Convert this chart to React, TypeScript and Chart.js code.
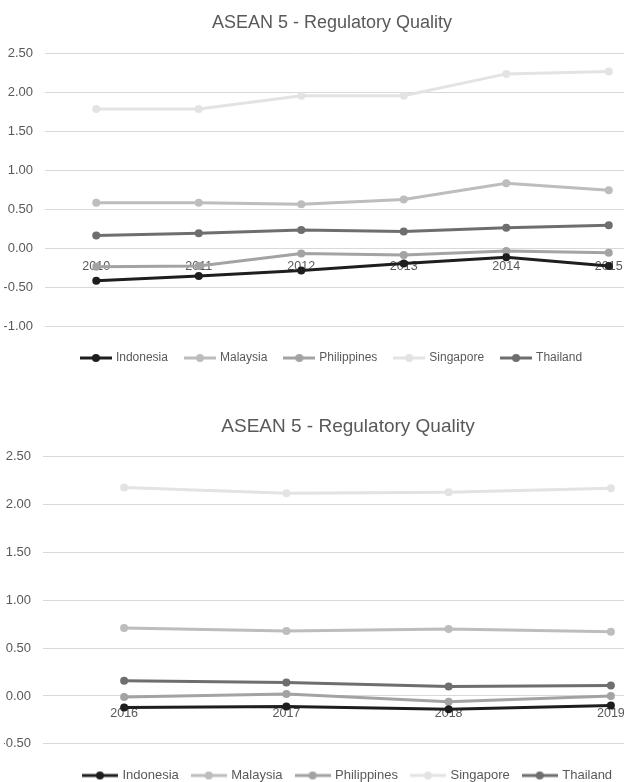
import React, { useEffect, useRef } from 'react';
import { Chart, registerables } from 'chart.js';
Chart.register(...registerables);

const TITLE = 'ASEAN 5 - Regulatory Quality';
const countries = ['Indonesia', 'Malaysia', 'Philippines', 'Singapore', 'Thailand'];
const colors = ['#1e1e1e', '#bdbdbd', '#a3a3a3', '#e3e3e3', '#6e6e6e'];

const years1 = ['2010', '2011', '2012', '2013', '2014', '2015'];
const indonesia1 = [-0.41, -0.35, -0.28, -0.19, -0.11, -0.22];
const malaysia1 = [0.59, 0.59, 0.57, 0.63, 0.84, 0.75];
const philippines1 = [-0.23, -0.22, -0.06, -0.08, -0.03, -0.05];
const singapore1 = [1.79, 1.79, 1.96, 1.96, 2.24, 2.27];
const thailand1 = [0.17, 0.2, 0.24, 0.22, 0.27, 0.3];

const years2 = ['2016', '2017', '2018', '2019'];
const indonesia2 = [-0.12, -0.11, -0.14, -0.1];
const malaysia2 = [0.71, 0.68, 0.7, 0.67];
const philippines2 = [-0.01, 0.02, -0.06, 0.0];
const singapore2 = [2.18, 2.12, 2.13, 2.17];
const thailand2 = [0.16, 0.14, 0.1, 0.11];

const FONT = "'Liberation Sans', Arial, sans-serif";
const TEXT = '#595959';

function legendIcon(color: string, w: number) {
  const c = document.createElement('canvas');
  c.width = w;
  c.height = 10;
  const ctx = c.getContext('2d')!;
  ctx.strokeStyle = color;
  ctx.lineWidth = 3;
  ctx.beginPath();
  ctx.moveTo(0, 5);
  ctx.lineTo(w, 5);
  ctx.stroke();
  ctx.fillStyle = color;
  ctx.beginPath();
  ctx.arc(w / 2, 5, 4, 0, Math.PI * 2);
  ctx.fill();
  return c;
}

type Props = {
  labels: string[];
  series: number[][];
  min: number;
  max: number;
  width: number;
  height: number;
  top: number;
  padRight: number;
  axisWidth: number;
  titleSize: number;
  titlePad: { top: number; bottom: number };
  legendSize: number;
  legendGap: number;
  legendPad: number;
  boxW: number;
  iconW: number;
};

function LineChart(p: Props) {
  const ref = useRef<HTMLCanvasElement>(null);
  useEffect(() => {
    const icons = colors.map((c) => legendIcon(c, p.iconW));
    const chart = new Chart(ref.current!, {
      type: 'line',
      data: {
        labels: p.labels,
        datasets: countries.map((name, i) => ({
          label: name,
          data: p.series[i],
          borderColor: colors[i],
          backgroundColor: colors[i],
          borderWidth: 3,
          pointRadius: 4,
          pointBorderWidth: 0,
          pointBackgroundColor: colors[i],
          tension: 0,
        })),
      },
      options: {
        animation: false,
        responsive: false,
        maintainAspectRatio: false,
        layout: { padding: { left: 4, right: p.padRight, top: 0, bottom: 0 } },
        plugins: {
          tooltip: { enabled: false },
          title: {
            display: true,
            text: TITLE,
            color: TEXT,
            font: { family: FONT, size: p.titleSize, weight: 'normal' },
            padding: p.titlePad,
          },
          legend: {
            position: 'bottom',
            title: {
              display: true,
              text: '',
              font: { size: 1 },
              padding: { top: p.legendGap, bottom: 0 },
            },
            labels: {
              usePointStyle: true,
              pointStyleWidth: p.boxW,
              color: TEXT,
              font: { family: FONT, size: p.legendSize },
              padding: p.legendPad,
              generateLabels: () =>
                countries.map((name, i) => ({
                  text: name,
                  fillStyle: colors[i],
                  strokeStyle: colors[i],
                  pointStyle: icons[i],
                  hidden: false,
                  datasetIndex: i,
                  fontColor: TEXT,
                })),
            },
          },
        },
        scales: {
          x: {
            type: 'category',
            position: { y: 0 } as any,
            offset: true,
            grid: { display: false },
            border: { display: false },
            ticks: { color: TEXT, font: { family: FONT, size: 12.5 }, padding: 2 },
          },
          y: {
            min: p.min,
            max: p.max,
            afterFit: (s: any) => {
              s.width = p.axisWidth;
            },
            ticks: {
              stepSize: 0.5,
              color: TEXT,
              font: { family: FONT, size: 13 },
              padding: 12,
              callback: (v: any) => Number(v).toFixed(2),
            },
            grid: { color: '#d9d9d9', drawTicks: false },
            border: { display: false },
          },
        },
      },
    });
    return () => chart.destroy();
  }, []);
  return (
    <canvas
      ref={ref}
      width={p.width}
      height={p.height}
      style={{ position: 'absolute', left: 0, top: p.top, width: p.width, height: p.height }}
    />
  );
}

export default function App() {
  useEffect(() => {
    document.body.style.margin = '0';
  }, []);
  return (
    <div style={{ position: 'relative', width: 624, height: 782, overflow: 'hidden', background: '#fff' }}>
      <LineChart
        labels={years1}
        series={[indonesia1, malaysia1, philippines1, singapore1, thailand1]}
        min={-1}
        max={2.5}
        width={680}
        height={374}
        top={0}
        padRight={20}
        axisWidth={41}
        titleSize={18}
        titlePad={{ top: 12, bottom: 20 }}
        legendSize={12}
        legendGap={6}
        legendPad={18}
        boxW={28}
        iconW={32}
      />
      <LineChart
        labels={years2}
        series={[indonesia2, malaysia2, philippines2, singapore2, thailand2]}
        min={-0.5}
        max={2.5}
        width={700}
        height={390}
        top={402}
        padRight={8}
        axisWidth={39}
        titleSize={19}
        titlePad={{ top: 13, bottom: 19 }}
        legendSize={13}
        legendGap={10}
        legendPad={14}
        boxW={32}
        iconW={36}
      />
    </div>
  );
}
